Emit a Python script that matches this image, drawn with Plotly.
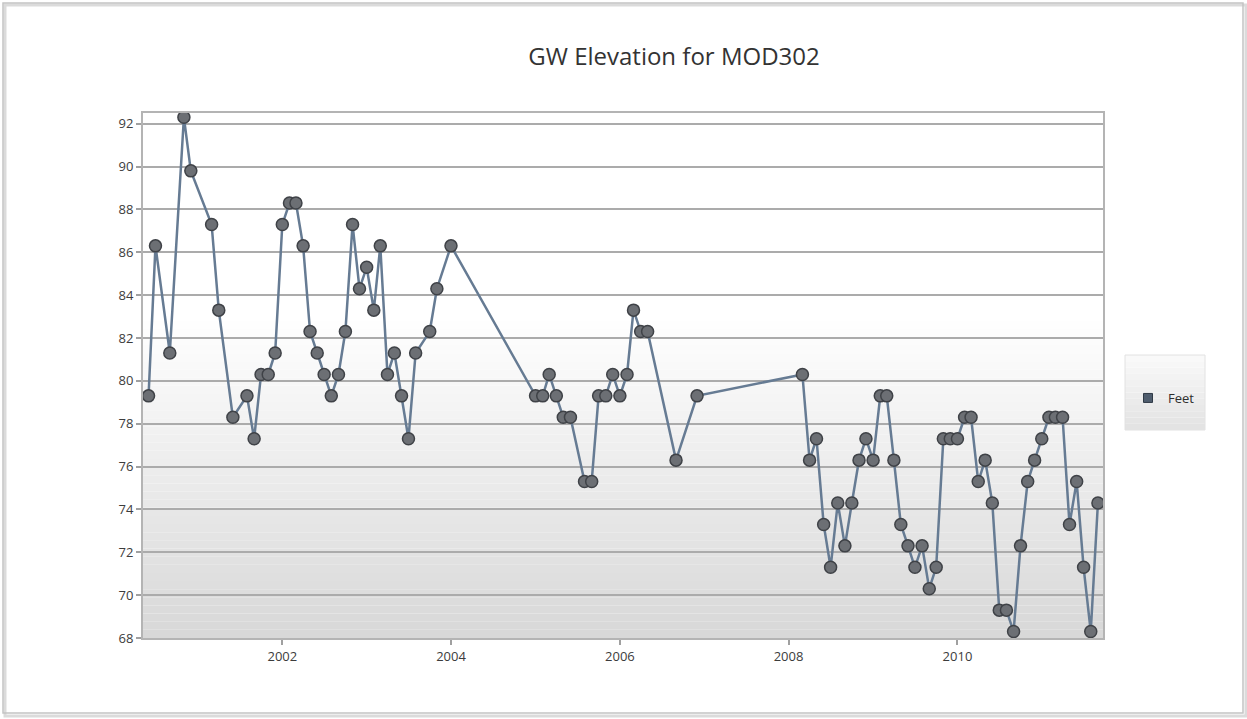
import plotly.graph_objects as go

# Monthly groundwater elevation readings (feet)
dates = [
    "2000-06-01", "2000-07-01", "2000-09-01", "2000-11-01", "2000-12-01",
    "2001-03-01", "2001-04-01", "2001-06-01", "2001-08-01", "2001-09-01",
    "2001-10-01", "2001-11-01", "2001-12-01", "2002-01-01", "2002-02-01",
    "2002-03-01", "2002-04-01", "2002-05-01", "2002-06-01", "2002-07-01",
    "2002-08-01", "2002-09-01", "2002-10-01", "2002-11-01", "2002-12-01",
    "2003-01-01", "2003-02-01", "2003-03-01", "2003-04-01", "2003-05-01",
    "2003-06-01", "2003-07-01", "2003-08-01", "2003-10-01", "2003-11-01",
    "2004-01-01", "2005-01-01", "2005-02-01", "2005-03-01", "2005-04-01",
    "2005-05-01", "2005-06-01", "2005-08-01", "2005-09-01", "2005-10-01",
    "2005-11-01", "2005-12-01", "2006-01-01", "2006-02-01", "2006-03-01",
    "2006-04-01", "2006-05-01", "2006-09-01", "2006-12-01", "2008-03-01",
    "2008-04-01", "2008-05-01", "2008-06-01", "2008-07-01", "2008-08-01",
    "2008-09-01", "2008-10-01", "2008-11-01", "2008-12-01", "2009-01-01",
    "2009-02-01", "2009-03-01", "2009-04-01", "2009-05-01", "2009-06-01",
    "2009-07-01", "2009-08-01", "2009-09-01", "2009-10-01", "2009-11-01",
    "2009-12-01", "2010-01-01", "2010-02-01", "2010-03-01", "2010-04-01",
    "2010-05-01", "2010-06-01", "2010-07-01", "2010-08-01", "2010-09-01",
    "2010-10-01", "2010-11-01", "2010-12-01", "2011-01-01", "2011-02-01",
    "2011-03-01", "2011-04-01", "2011-05-01", "2011-06-01", "2011-07-01",
    "2011-08-01", "2011-09-01",
]
feet = [
    79.3, 86.3, 81.3, 92.3, 89.8,
    87.3, 83.3, 78.3, 79.3, 77.3,
    80.3, 80.3, 81.3, 87.3, 88.3,
    88.3, 86.3, 82.3, 81.3, 80.3,
    79.3, 80.3, 82.3, 87.3, 84.3,
    85.3, 83.3, 86.3, 80.3, 81.3,
    79.3, 77.3, 81.3, 82.3, 84.3,
    86.3, 79.3, 79.3, 80.3, 79.3,
    78.3, 78.3, 75.3, 75.3, 79.3,
    79.3, 80.3, 79.3, 80.3, 83.3,
    82.3, 82.3, 76.3, 79.3, 80.3,
    76.3, 77.3, 73.3, 71.3, 74.3,
    72.3, 74.3, 76.3, 77.3, 76.3,
    79.3, 79.3, 76.3, 73.3, 72.3,
    71.3, 72.3, 70.3, 71.3, 77.3,
    77.3, 77.3, 78.3, 78.3, 75.3,
    76.3, 74.3, 69.3, 69.3, 68.3,
    72.3, 75.3, 76.3, 77.3, 78.3,
    78.3, 78.3, 73.3, 75.3, 71.3,
    68.3, 74.3,
]

title_text = "GW Elevation for MOD302"
series_name = "Feet"
y_ticks = [68, 70, 72, 74, 76, 78, 80, 82, 84, 86, 88, 90, 92]
x_ticks = ["2002-01-01", "2004-01-01", "2006-01-01", "2008-01-01", "2010-01-01"]
x_tick_labels = ["2002", "2004", "2006", "2008", "2010"]

W, H = 1247, 719
L, R, T, B = 143, 144, 113, 81
pw, ph = W - L - R, H - T - B


def px_to_paper(px, py):
    return (px - L) / pw, (H - B - py) / ph


def lerp_gray(c0, c1, t):
    v = round(c0 + (c1 - c0) * t)
    return f"rgb({v},{v},{v})"


shapes = []

# outer frame with soft shadow
x0, y1 = px_to_paper(3, 3)
x1, y0 = px_to_paper(1243, 713)
sx0, sy1 = px_to_paper(5, 5)
sx1, sy0 = px_to_paper(1246, 716)
shapes.append(dict(type="rect", xref="paper", yref="paper", x0=sx0, x1=sx1, y0=sy0, y1=sy1,
                   line=dict(color="rgba(0,0,0,0.14)", width=3), fillcolor="rgba(0,0,0,0)",
                   layer="below"))
shapes.append(dict(type="rect", xref="paper", yref="paper", x0=x0, x1=x1, y0=y0, y1=y1,
                   line=dict(color="#c4c4c4", width=1.5), fillcolor="rgba(0,0,0,0)",
                   layer="below"))

# plot area shading: white at top fading to light grey at the bottom
n_bands = 40
fade_top = 0.62
for i in range(n_bands):
    b0 = fade_top * i / n_bands
    b1 = fade_top * (i + 1) / n_bands
    t = (i + 0.5) / n_bands
    shapes.append(dict(type="rect", xref="paper", yref="paper", x0=0, x1=1, y0=b0, y1=b1,
                       line=dict(width=0), fillcolor=lerp_gray(216, 255, t), layer="below"))

# legend panel
lx0, ly1 = px_to_paper(1125, 355)
lx1, ly0 = px_to_paper(1205, 430)
n_leg = 12
for i in range(n_leg):
    b0 = ly0 + (ly1 - ly0) * i / n_leg
    b1 = ly0 + (ly1 - ly0) * (i + 1) / n_leg
    t = (i + 0.5) / n_leg
    shapes.append(dict(type="rect", xref="paper", yref="paper", x0=lx0, x1=lx1, y0=b0, y1=b1,
                       line=dict(width=0), fillcolor=lerp_gray(226, 250, t), layer="below"))
shapes.append(dict(type="rect", xref="paper", yref="paper", x0=lx0, x1=lx1, y0=ly0, y1=ly1,
                   line=dict(color="#e2e2e2", width=1), fillcolor="rgba(0,0,0,0)", layer="below"))

fig = go.Figure()
fig.add_trace(go.Scatter(
    x=dates, y=feet, mode="lines+markers", name=series_name, showlegend=False,
    line=dict(color="#667b93", width=2.5),
    marker=dict(size=12, color="#6c6f74", line=dict(color="#3f4247", width=1.5)),
))
# legend entry drawn as a small square swatch
fig.add_trace(go.Scatter(
    x=[None], y=[None], mode="markers", name=series_name, showlegend=True,
    marker=dict(symbol="square", size=9, color="#4f5d6e", line=dict(color="#2f3a46", width=1)),
))

lcx, lcy = px_to_paper(1164, 398)
fig.update_layout(
    width=W, height=H,
    margin=dict(l=L, r=R, t=T, b=B),
    paper_bgcolor="white", plot_bgcolor="white",
    font=dict(family="Open Sans, DejaVu Sans, sans-serif", color="#3c3c3c", size=13),
    title=dict(text=title_text, xref="container", yref="container",
               x=674 / W, y=1 - 57 / H, xanchor="center", yanchor="middle",
               font=dict(size=24, color="#333333")),
    shapes=shapes,
    showlegend=True,
    legend=dict(x=lcx, y=lcy, xref="paper", yref="paper", xanchor="center", yanchor="middle",
                bgcolor="rgba(0,0,0,0)", borderwidth=0, itemwidth=30,
                font=dict(size=13, color="#2e2e2e")),
    xaxis=dict(
        type="date", range=["2000-05-08", "2011-09-23"],
        tickvals=x_ticks, ticktext=x_tick_labels,
        showgrid=False, zeroline=False,
        showline=True, linecolor="#b4b4b4", linewidth=2, mirror=True,
        ticks="outside", ticklen=5, tickcolor="#a0a0a0", tickwidth=1.5,
        tickfont=dict(size=13, color="#3c3c3c"),
    ),
    yaxis=dict(
        range=[68, 92.5], tickvals=y_ticks,
        showgrid=True, gridcolor="#ababab", gridwidth=2, zeroline=False,
        showline=True, linecolor="#b4b4b4", linewidth=2, mirror=True,
        ticks="outside", ticklen=5, tickcolor="#a0a0a0", tickwidth=1.5,
        tickfont=dict(size=13, color="#3c3c3c"),
    ),
)

fig.write_html("out.html")
